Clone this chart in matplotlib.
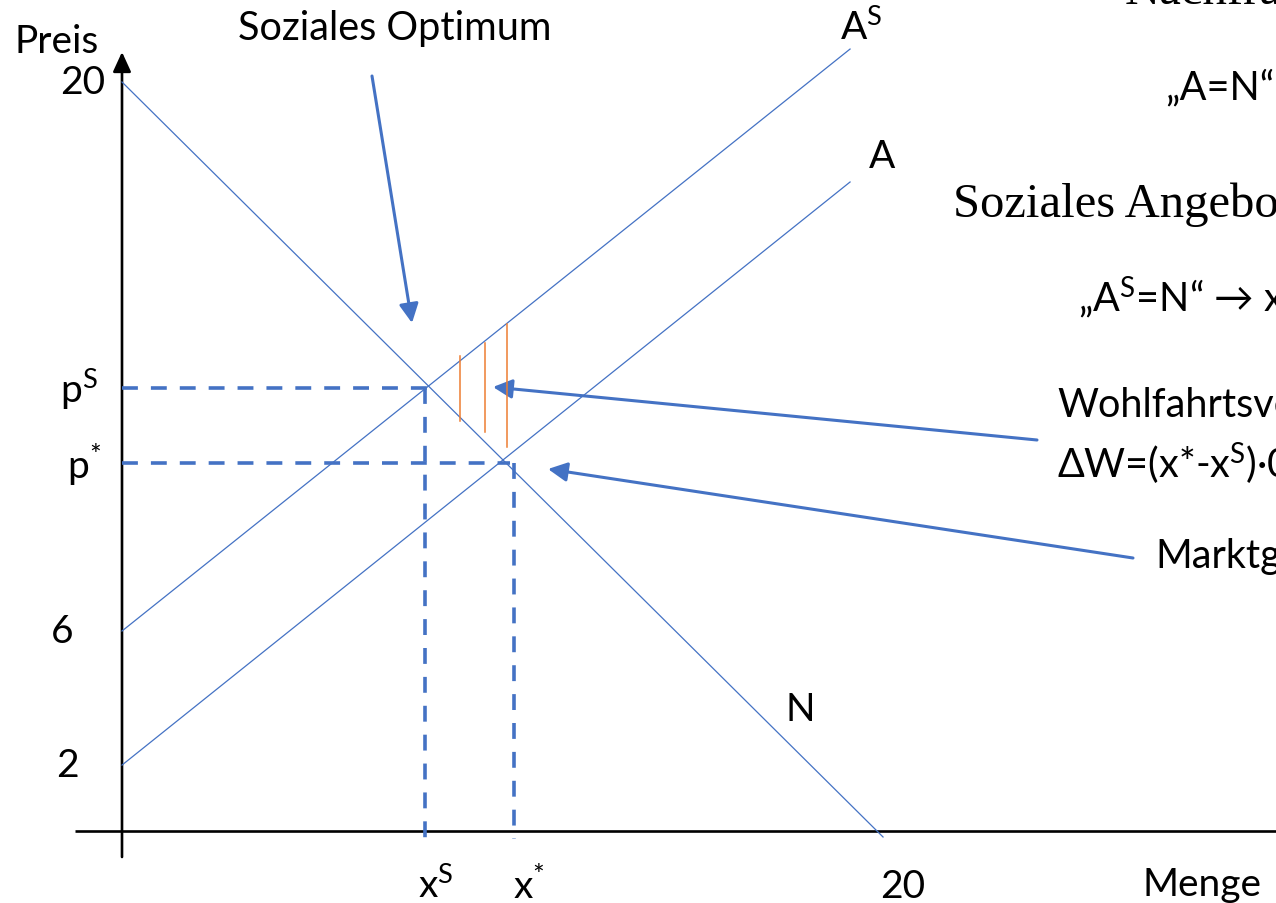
import matplotlib
matplotlib.use("Agg")
import matplotlib.pyplot as plt
from matplotlib.patches import FancyArrowPatch

# ---- data (Menge / Preis units) ----
demand_x = [0, 20.08]
demand_p = [20, -0.16]
supply_x = [0, 19.21]
supply_p = [1.76, 17.33]
social_supply_x = [0, 19.21]
social_supply_p = [5.34, 20.88]

x_social = 8.0
x_market = 10.35
p_social = 11.83
p_market = 9.83

hatch_x = [8.92, 9.58, 10.16]
hatch_lo = [10.95, 10.65, 10.25]
hatch_hi = [12.68, 13.03, 13.54]

y_tick_values = [20, p_social, p_market, 5.34, 1.76]
y_tick_labels = ["20", r"p$^{\mathrm{S}}$", r"p$^{*}$", "6", "2"]
x_tick_values = [x_social, x_market, 20]
x_tick_labels = [r"x$^{\mathrm{S}}$", r"x$^{*}$", "20"]

BLUE = "#4472C4"
ORANGE = "#ED7D31"
SANS = "Lato"
SERIF = "Liberation Serif"

plt.rcParams["mathtext.fontset"] = "custom"
plt.rcParams["mathtext.rm"] = SANS
plt.rcParams["mathtext.it"] = SANS + ":italic"
plt.rcParams["mathtext.default"] = "rm"
plt.rcParams["font.family"] = [SANS, "DejaVu Sans"]

# pixel -> data helpers (figure 1276x904)
SX, SY = 37.9, 37.45
def X(px):
    return (px - 122) / SX
def Y(py):
    return (832 - py) / SY

fig = plt.figure(figsize=(12.76, 9.04), dpi=100)
ax = fig.add_axes([0, 0, 1, 1])
ax.set_xlim(X(0), X(1276))
ax.set_ylim(Y(904), Y(0))
ax.axis("off")

FS = 28.5
TFS = 28

# axes
ax.plot([X(75), X(1276)], [0, 0], color="black", lw=1.9, solid_capstyle="butt")
ax.add_patch(FancyArrowPatch((0, Y(858)), (0, Y(53)), arrowstyle="-|>,head_length=12,head_width=5.5",
                             mutation_scale=1, color="black", lw=1.9, shrinkA=0, shrinkB=0))

# curves
ax.plot(demand_x, demand_p, color=BLUE, lw=0.9)
ax.plot(supply_x, supply_p, color=BLUE, lw=0.9)
ax.plot(social_supply_x, social_supply_p, color=BLUE, lw=0.9)

# dashed guide lines
dash = dict(color=BLUE, lw=2.6, linestyle=(0, (4.4, 3.6)), dash_capstyle="butt")
ax.plot([0, x_social + 0.1], [p_social, p_social], **dash)
ax.plot([0, x_market - 0.1], [p_market, p_market], **dash)
ax.plot([x_social, x_social], [p_social, Y(840)], **dash)
ax.plot([x_market, x_market], [p_market, Y(840)], **dash)

# welfare loss hatch
for hx, lo, hi in zip(hatch_x, hatch_lo, hatch_hi):
    ax.plot([hx, hx], [lo, hi], color=ORANGE, lw=1.1)

# annotation arrows
def arrow(p0, p1):
    ax.add_patch(FancyArrowPatch((X(p0[0]), Y(p0[1])), (X(p1[0]), Y(p1[1])),
                                 arrowstyle="-|>,head_length=11.5,head_width=5.8",
                                 mutation_scale=1, color=BLUE, lw=2.2, shrinkA=0, shrinkB=0))
arrow((372, 77), (412, 324))
arrow((1037, 441), (493, 388))
arrow((1133, 559), (548, 470))

# y tick labels
y_label_right = [105, 98, 101, 73, 79]
for v, lab, r in zip(y_tick_values, y_tick_labels, y_label_right):
    ax.text(X(r), v, lab, fontsize=TFS, ha="right", va="center")

# x tick labels
x_label_left = [418, 513, 880]
for v, lab, l in zip(x_tick_values, x_tick_labels, x_label_left):
    ax.text(X(l), Y(898), lab, fontsize=TFS, ha="left", va="baseline")

# axis titles
ax.text(X(57), Y(42), "Preis", fontsize=TFS, ha="center", va="center")
ax.text(X(1142), Y(896), "Menge", fontsize=TFS, ha="left", va="baseline")

# curve labels
ax.text(X(840), Y(40), r"A$^{\mathrm{S}}$", fontsize=TFS, ha="left", va="baseline")
ax.text(X(869), Y(168), "A", fontsize=TFS, ha="left", va="baseline")
ax.text(X(800), Y(710), "N", fontsize=TFS, ha="center", va="center")

# annotations
ax.text(X(238), Y(40), "Soziales Optimum", fontsize=FS, ha="left", va="baseline")
ax.text(X(1125), Y(4), "Nachfrage", fontsize=35, family=SERIF, ha="left", va="baseline")
ax.text(X(1165), Y(100), "„A=N“", fontsize=FS, ha="left", va="baseline")
ax.text(X(953), Y(217), "Soziales Angebot", fontsize=35, family=SERIF, ha="left", va="baseline")
ax.text(X(1078), Y(312), r"„A$^{\mathrm{S}}$=N“ → x$^{\mathrm{S}}$", fontsize=FS, ha="left", va="baseline")
ax.text(X(1057), Y(417), "Wohlfahrtsverlust", fontsize=FS, ha="left", va="baseline")
ax.text(X(1057), Y(478), r"ΔW=(x*-x$^{\mathrm{S}}$)·0,5", fontsize=FS, ha="left", va="baseline")
ax.text(X(1155), Y(568), "Marktgleichgewicht", fontsize=FS, ha="left", va="baseline")

fig.savefig("out.png", dpi=100)
